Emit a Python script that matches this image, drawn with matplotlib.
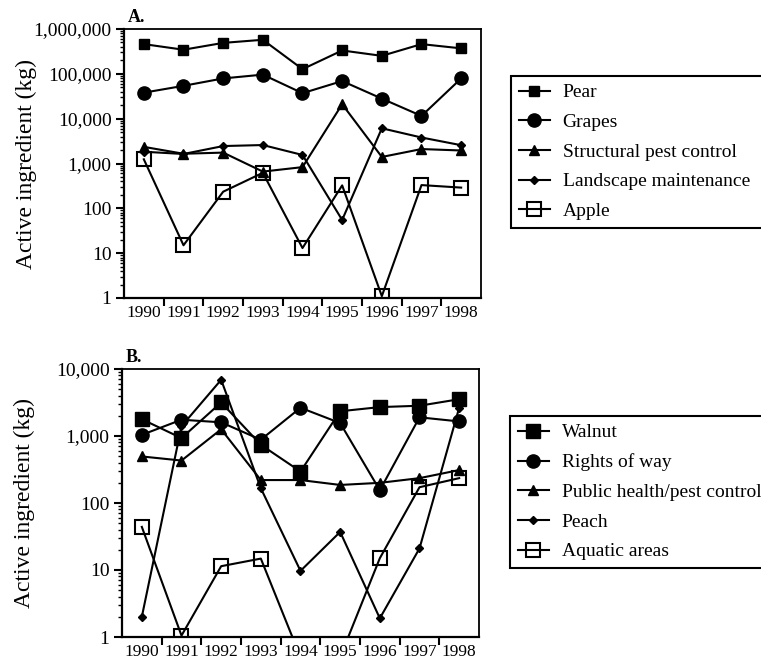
import matplotlib
matplotlib.use("Agg")
import matplotlib.pyplot as plt
import numpy as np
from matplotlib.ticker import FixedLocator, FuncFormatter, LogLocator, NullFormatter

plt.rcParams["font.family"] = ["Liberation Serif", "DejaVu Serif"]

years = ["1990", "1991", "1992", "1993", "1994", "1995", "1996", "1997", "1998"]

# panel A
pear = [460000, 345000, 490000, 575000, 127000, 332000, 252000, 460000, 370000]
grapes = [38000, 54000, 79000, 96000, 37000, 69000, 28000, 11500, 79000]
structural = [2350, 1650, 1750, 660, 830, 21000, 1400, 2100, 1950]
landscape = [1830, 1630, 2450, 2580, 1550, 55, 6100, 3800, 2560]
apple = [1240, 15, 235, 620, 13, 325, 1.1, 330, 290]

# panel B
walnut = [1780, 930, 3170, 740, 295, 2340, 2700, 2830, 3540]
rights_of_way = [1040, 1750, 1600, 880, 2640, 1560, 155, 1900, 1650]
public_health = [495, 430, 1260, 220, 220, 186, 200, 235, 310]
peach = [2, 1400, 6900, 166, 9.7, 37, 1.9, 21, 2640]
aquatic = [44, 1.05, 11.4, 14.8, 0.5, 0.5, 15, 172, 235]

STYLES = {
    "sq": dict(marker="s", ms=7.5, mfc="black"),
    "sq_big": dict(marker="s", ms=9.5, mfc="black"),
    "circ": dict(marker="o", ms=9.5, mfc="black"),
    "tri": dict(marker="^", ms=7, mfc="black"),
    "dia": dict(marker="D", ms=4.5, mfc="black"),
    "open": dict(marker="s", ms=9.5, mfc="none", mew=1.5),
}


def setup_axis(ax, ymax, tag):
    x = np.arange(len(years))
    ax.set_yscale("log")
    ax.set_ylim(1, ymax)
    ax.set_xlim(-0.5, len(years) - 0.5)
    ax.xaxis.set_major_locator(FixedLocator(np.arange(0.5, len(years) - 1, 1.0)))
    ax.xaxis.set_major_formatter(NullFormatter())
    ax.xaxis.set_minor_locator(FixedLocator(x))
    ax.set_xticklabels(years, minor=True)
    ax.tick_params(axis="x", which="major", direction="out", length=6, width=1.5)
    ax.tick_params(axis="x", which="minor", length=0, pad=5, labelsize=12.5)
    ax.yaxis.set_major_locator(LogLocator(base=10))
    ax.yaxis.set_minor_locator(LogLocator(base=10, subs=np.arange(2, 10)))
    ax.yaxis.set_minor_formatter(NullFormatter())
    ax.yaxis.set_major_formatter(FuncFormatter(lambda v, _: f"{v:,.0f}"))
    ax.tick_params(axis="y", which="major", direction="out", length=6, width=1.5, labelsize=14, pad=3)
    ax.tick_params(axis="y", which="minor", direction="out", length=3, width=1)
    for side in ["left", "bottom"]:
        ax.spines[side].set_linewidth(1.6)
    for side in ["top", "right"]:
        ax.spines[side].set_linewidth(1.3)
    ax.set_ylabel("Active ingredient (kg)", fontsize=17)
    ax.yaxis.set_label_coords(-0.245, 0.5)
    ax.text(0.01, 1.01, tag, transform=ax.transAxes, fontsize=13, fontweight="bold",
            ha="left", va="bottom")


def draw(ax, series, legend_left, legend_top, fig):
    x = np.arange(len(years))
    handles = []
    for label, values, style in series:
        (h,) = ax.plot(x, values, color="black", lw=1.5, mec="black", label=label, **STYLES[style])
        handles.append(h)
    # box runs past the right edge of the figure, like the scanned original
    leg = fig.legend(handles=handles, loc="upper left",
                     bbox_to_anchor=(legend_left, legend_top, 1.02 - legend_left, 0),
                     mode="expand",
                     fontsize=14, frameon=True, fancybox=False, edgecolor="black",
                     framealpha=1, borderaxespad=0, borderpad=0.4, labelspacing=0.62,
                     handlelength=1.6, handletextpad=0.65)
    leg.get_frame().set_linewidth(1.5)


fig = plt.figure(figsize=(7.61, 6.64), dpi=100)
ax_a = fig.add_axes([124 / 761, 1 - 298 / 664, 357 / 761, 269 / 664])
ax_b = fig.add_axes([122 / 761, 1 - 637 / 664, 357 / 761, 268 / 664])

setup_axis(ax_a, 1e6, "A.")
draw(ax_a, [
    ("Pear", pear, "sq"),
    ("Grapes", grapes, "circ"),
    ("Structural pest control", structural, "tri"),
    ("Landscape maintenance", landscape, "dia"),
    ("Apple", apple, "open"),
], 511 / 761, 1 - 76 / 664, fig)

setup_axis(ax_b, 1e4, "B.")
draw(ax_b, [
    ("Walnut", walnut, "sq_big"),
    ("Rights of way", rights_of_way, "circ"),
    ("Public health/pest control", public_health, "tri"),
    ("Peach", peach, "dia"),
    ("Aquatic areas", aquatic, "open"),
], 510 / 761, 1 - 416 / 664, fig)

fig.savefig("out.png", dpi=100)
